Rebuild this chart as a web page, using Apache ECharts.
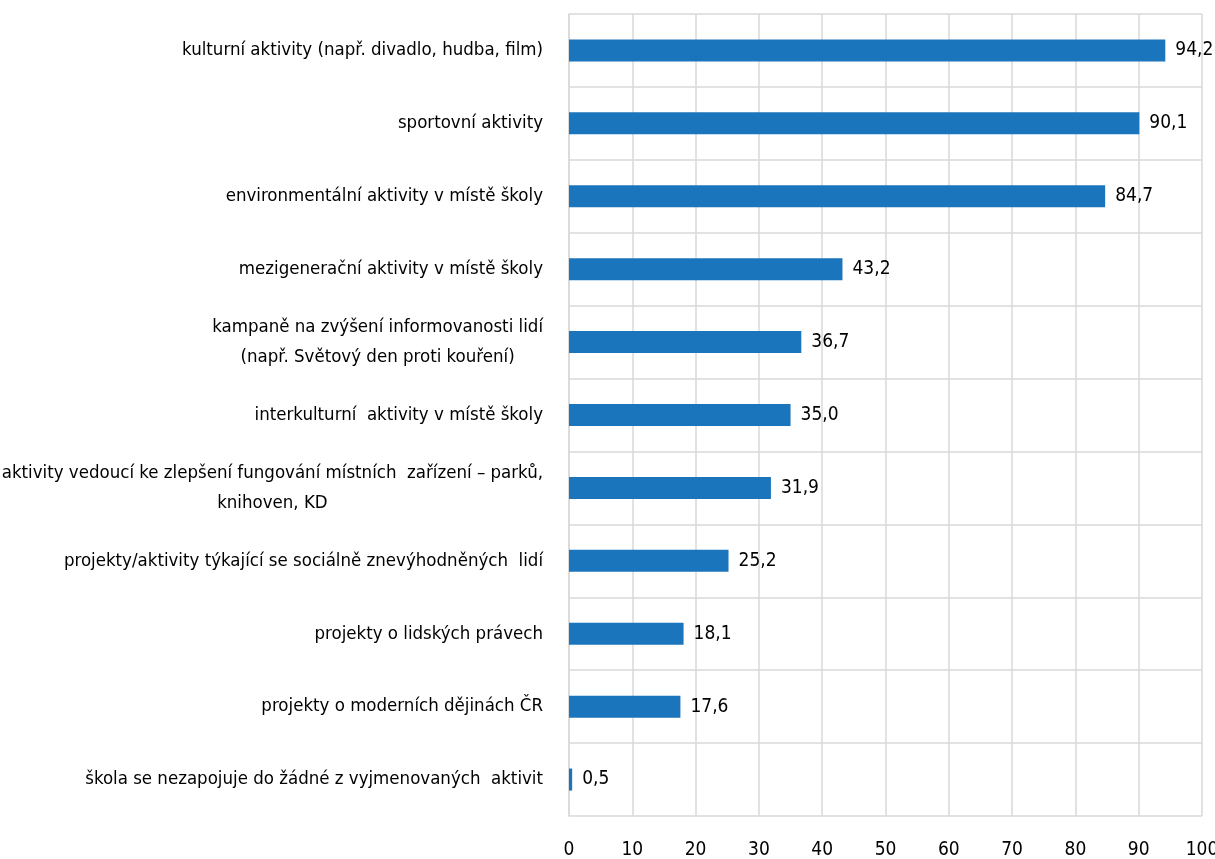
<!DOCTYPE html>
<html>
<head>
<meta charset="utf-8">
<script src="https://cdn.jsdelivr.net/npm/echarts@6/dist/echarts.min.js"></script>
<style>
    html, body { margin: 0; padding: 0; background: #ffffff; }
    #chart { width: 1215px; height: 859px; }
</style>
</head>
<body>
<div id="chart"></div>
<script>
const categories = [
    "kulturní aktivity (např. divadlo, hudba, film)",
    "sportovní aktivity",
    "environmentální aktivity v místě školy",
    "mezigenerační aktivity v místě školy",
    "kampaně na zvýšení informovanosti lidí\n(např. Světový den proti kouření)",
    "interkulturní  aktivity v místě školy",
    "aktivity vedoucí ke zlepšení fungování místních  zařízení – parků,\nknihoven, KD",
    "projekty/aktivity týkající se sociálně znevýhodněných  lidí",
    "projekty o lidských právech",
    "projekty o moderních dějinách ČR",
    "škola se nezapojuje do žádné z vyjmenovaných  aktivit",
];
const values = [94.2, 90.1, 84.7, 43.2, 36.7, 35.0, 31.9, 25.2, 18.1, 17.6, 0.5];

const FONT = '"Liberation Sans Narrow", "DejaVu Sans Condensed", "Noto Sans", sans-serif';
const chart = echarts.init(document.getElementById("chart"), null, { renderer: "canvas" });

chart.setOption({
    animation: false,
    grid: {
        left: 569,
        right: 13,
        top: 14,
        bottom: 43,
        containLabel: false,
        outerBoundsMode: "none",
    },
    xAxis: {
        type: "value",
        min: 0,
        max: 100,
        interval: 10,
        axisLine: { show: false },
        axisTick: { show: false },
        axisLabel: { color: "#000", fontSize: 19, fontFamily: FONT, margin: 25 },
        splitLine: { show: true, lineStyle: { color: "#d9d9d9", width: 1.5 } },
    },
    yAxis: {
        type: "category",
        inverse: true,
        data: categories,
        axisLine: { show: true, lineStyle: { color: "#d9d9d9", width: 1.5 } },
        axisTick: { show: false },
        splitLine: { show: true, lineStyle: { color: "#d9d9d9", width: 1.5 } },
        axisLabel: {
            margin: 26,
            fontSize: 18.5,
            fontFamily: FONT,
            color: "#000",
            lineHeight: 30,
            formatter: (v) => v.split("\n").map((l) => "{c|" + l + "}").join("\n"),
            rich: {
                c: { align: "center", fontSize: 18.5, fontFamily: FONT, color: "#000", lineHeight: 30 },
            },
        },
    },
    series: [
        {
            type: "bar",
            data: values,
            barWidth: 22,
            itemStyle: { color: "#1b75bc" },
            label: {
                show: true,
                position: "right",
                distance: 10,
                color: "#000",
                fontSize: 19,
                fontFamily: FONT,
                formatter: (p) => p.value.toFixed(1).replace(".", ","),
            },
        },
    ],
});
</script>
</body>
</html>
